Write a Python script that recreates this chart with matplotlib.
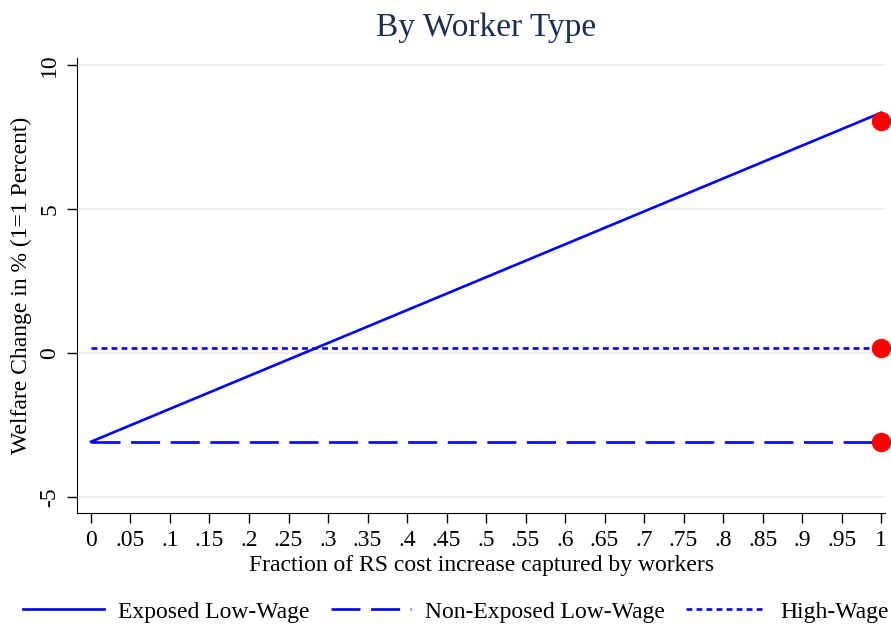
import matplotlib.pyplot as plt

plt.rcParams['font.family'] = ['Liberation Serif', 'DejaVu Serif']

# Daten
share = [0, 1]
exposed_low = [-3.08, 8.34]
nonexposed_low = [-3.08, -3.08]
high_wage = [0.17, 0.17]

dot_x = [1, 1, 1]
dot_y = [8.06, 0.17, -3.08]

xticks = [i / 20 for i in range(21)]
xticklabels = ['0', '.05', '.1', '.15', '.2', '.25', '.3', '.35', '.4', '.45', '.5',
               '.55', '.6', '.65', '.7', '.75', '.8', '.85', '.9', '.95', '1']
yticks = [-5, 0, 5, 10]

fig = plt.figure(figsize=(8.91, 6.27), dpi=100)
ax = fig.add_axes([0.0864, 0.182, 0.907, 0.726])

blue = '#0000ff'
ax.plot(share, exposed_low, color=blue, lw=1.9, label='Exposed Low-Wage')
ax.plot(share, nonexposed_low, color=blue, lw=1.9, dashes=(11, 4),
        label='Non-Exposed Low-Wage')
ax.plot(share, high_wage, color=blue, lw=1.9, dashes=(2.2, 1.6), label='High-Wage')
ax.plot(dot_x, dot_y, 'o', color='#ff0000', ms=13, zorder=5, clip_on=False)

ax.set_xlim(-0.0177, 1.005)
ax.set_ylim(-5.55, 10.25)
ax.set_xticks(xticks)
ax.set_xticklabels(xticklabels)
ax.set_yticks(yticks)
ax.set_yticklabels([str(v) for v in yticks], rotation=90, va='center')
ax.tick_params(axis='both', labelsize=17, length=7, width=1, direction='out')
ax.tick_params(axis='x', pad=5)
ax.tick_params(axis='y', pad=5)
ax.grid(axis='y', color='#e6eff1', lw=1.2)
ax.set_axisbelow(True)

for s in ['top', 'right']:
    ax.spines[s].set_visible(False)

ax.set_xlabel('Fraction of RS cost increase captured by workers', fontsize=17, labelpad=3)
ax.set_ylabel('Welfare Change in % (1=1 Percent)', fontsize=17, labelpad=5)
fig.text(0.545, 0.956, 'By Worker Type', fontsize=24, color='#1e2d52',
         ha='center', va='center')

fig.legend(loc='center', bbox_to_anchor=(0.512, 0.024), ncol=3, frameon=False,
           fontsize=17, handlelength=3.4, handletextpad=0.6, columnspacing=0.9)

fig.savefig('out.png', dpi=100)
